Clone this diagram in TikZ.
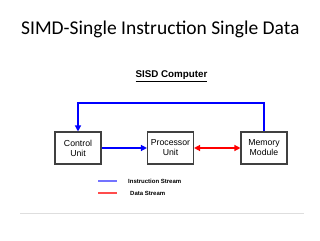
\documentclass[tikz,border=0pt]{standalone}
\usepackage{fontspec}
\setmainfont{Liberation Sans}
\newfontfamily\titlefont{Carlito}
\usetikzlibrary{arrows.meta}
\begin{document}
\begin{tikzpicture}[x=1pt,y=-1pt,
  unitbox/.style={draw=black!75,line width=1.1pt,minimum width=46pt,minimum height=32pt,inner sep=0pt,align=center,font=\fontsize{8.7}{10}\selectfont},
  instr/.style={draw=blue,line width=1.3pt,-{Triangle[length=6pt,width=6pt]}},
  datas/.style={draw=red,line width=1.3pt,{Triangle[length=6pt,width=6pt]}-{Triangle[length=6pt,width=6pt]}},
  legtext/.style={anchor=west,inner sep=0pt,font=\bfseries\fontsize{6}{7}\selectfont}]
\useasboundingbox (0,0) rectangle (320,240);
\node[anchor=base west,inner sep=0pt,font=\titlefont\fontsize{19.5}{22}\selectfont] (title) at (21,35) {SIMD-Single Instruction Single Data};
\node[anchor=base,inner sep=0pt,font=\bfseries\fontsize{9.8}{11}\selectfont] (sub) at (171.5,77.5) {\underline{SISD Computer}};
\node[unitbox] (cu) at (78,148) {Control\\Unit};
\node[unitbox] (pu) at (170.5,148) {Processor\\Unit};
\node[unitbox] (mm) at (264,148) {Memory\\Module};
\draw[instr] (cu.east) -- (pu.west);
\draw[datas] (pu.east) -- (mm.west);
\draw[instr] (mm.north) |- (78,103) -- (cu.north);
\coordinate (l1a) at (98,181);
\coordinate (l1b) at (117,181);
\coordinate (l2a) at (98,193);
\coordinate (l2b) at (117,193);
\draw[blue!55,line width=1.2pt] (l1a) -- (l1b);
\draw[red!70,line width=1.1pt] (l2a) -- (l2b);
\node[legtext] (lt1) at (128,181) {Instruction Stream};
\node[legtext] (lt2) at (130,193) {Data Stream};
\coordinate (ga) at (20,213.5);
\coordinate (gb) at (304,213.5);
\draw[black!13,line width=1pt] (ga) -- (gb);
\end{tikzpicture}
\end{document}
